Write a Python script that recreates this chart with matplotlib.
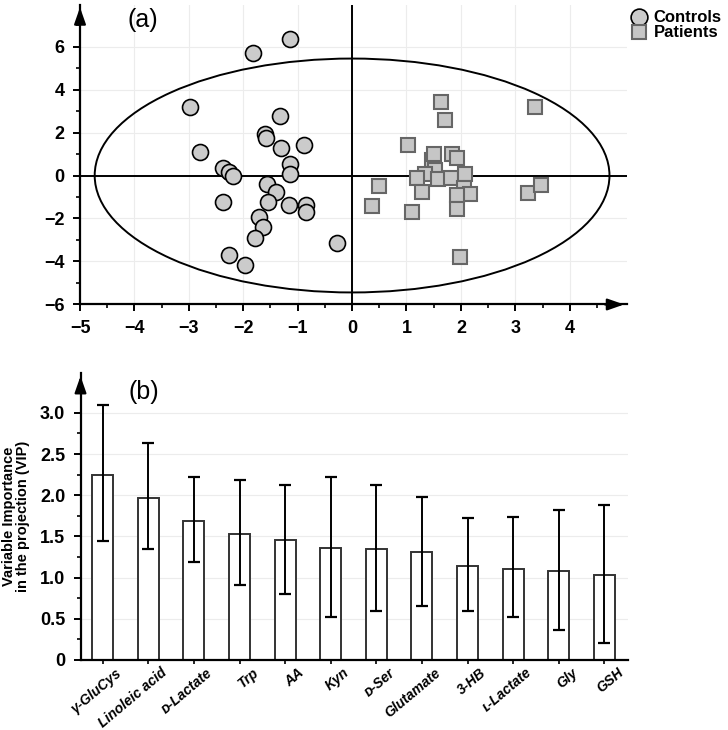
import numpy as np
import matplotlib
matplotlib.use("Agg")
import matplotlib.pyplot as plt
from matplotlib.patches import Ellipse
from matplotlib.ticker import MultipleLocator
from matplotlib.transforms import ScaledTranslation

plt.rcParams['font.family'] = ['Liberation Sans Narrow', 'Liberation Sans', 'DejaVu Sans']

# ---- (a) score plot data ----
ctrl_x = [-1.15, -1.83, -2.98, -1.32, -1.60, -1.58, -2.80, -1.30, -0.89, -1.15,
          -1.15, -2.38, -2.26, -2.19, -1.57, -1.40, -1.54, -2.37, -1.155, -0.85,
          -0.84, -1.71, -1.64, -1.79, -0.28, -2.26, -1.96]
ctrl_y = [6.37, 5.72, 3.19, 2.77, 1.95, 1.75, 1.08, 1.27, 1.44, 0.53,
          0.09, 0.33, 0.17, -0.03, -0.40, -0.78, -1.23, -1.23, -1.35, -1.35,
          -1.69, -1.92, -2.40, -2.93, -3.16, -3.71, -4.17]

pat_x = [1.64, 1.71, 3.36, 1.02, 1.47, 1.51, 1.83, 1.92, 1.52, 1.34,
         1.19, 1.58, 1.82, 2.07, 0.49, 1.29, 2.06, 2.17, 1.92, 0.36,
         1.10, 1.92, 3.23, 3.48, 1.98]
pat_y = [3.43, 2.58, 3.17, 1.42, 0.72, 1.01, 1.01, 0.80, 0.26, 0.07,
         -0.12, -0.18, -0.12, 0.07, -0.47, -0.75, -0.60, -0.85, -0.91, -1.42,
         -1.70, -1.56, -0.80, -0.43, -3.78]

ell_w, ell_h = 2 * 4.73, 2 * 5.44   # Hotelling ellipse

# ---- (b) VIP data ----
metabolites = ['\u03b3-GluCys', 'Linoleic acid', '\u1d05-Lactate', 'Trp', 'AA', 'Kyn',
               '\u1d05-Ser', 'Glutamate', '3-HB', '\u029f-Lactate', 'Gly', 'GSH']
vip = [2.25, 1.97, 1.69, 1.53, 1.46, 1.36, 1.345, 1.31, 1.14, 1.11, 1.085, 1.03]
err_hi = [3.09, 2.63, 2.22, 2.18, 2.13, 2.22, 2.12, 1.98, 1.72, 1.74, 1.82, 1.88]
err_lo = [1.445, 1.345, 1.19, 0.905, 0.805, 0.52, 0.60, 0.66, 0.59, 0.52, 0.365, 0.205]

fig = plt.figure(figsize=(7.28, 7.30), dpi=100)

# ----------------------------
# (a) scores
# ----------------------------
ax1 = fig.add_axes([0.1099, 0.5829, 0.7512, 0.4108])
ax1.set_xlim(-5, 5.05)
ax1.set_ylim(-6, 7.95)

for v in range(-4, 5):
    ax1.axvline(v, color='#ececec', lw=0.8, zorder=0)
for v in range(-4, 8, 2):
    ax1.axhline(v, color='#ececec', lw=0.8, zorder=0)

ax1.axhline(0, color='k', lw=1.4, zorder=1)
ax1.axvline(0, color='k', lw=1.4, zorder=1)
ax1.add_patch(Ellipse((0, 0), ell_w, ell_h, fill=False, ec='k', lw=1.4, zorder=1))

ax1.plot(pat_x, pat_y, 's', ms=10, mfc='#c6c6c6', mec='#666666', mew=1.5,
         ls='none', zorder=3, label='Patients')
ax1.plot(ctrl_x, ctrl_y, 'o', ms=11.5, mfc='#cbcbcb', mec='k', mew=1.2,
         ls='none', zorder=4, label='Controls')

for s in ['top', 'right']:
    ax1.spines[s].set_visible(False)
ax1.spines['left'].set_linewidth(1.6)
ax1.spines['bottom'].set_linewidth(1.6)

ax1.yaxis.set_major_locator(MultipleLocator(2))
ax1.yaxis.set_minor_locator(MultipleLocator(1))
ax1.set_xticks(np.arange(-5, 5, 1))
ax1.set_xticks(np.arange(-4.5, 5, 1), minor=True)
ax1.tick_params(which='major', length=5, width=1.4, labelsize=13, pad=6)
ax1.tick_params(which='minor', length=3, width=1.2)
for lab in ax1.get_xticklabels() + ax1.get_yticklabels():
    lab.set_fontweight('bold')

ax1.annotate('', xy=(1.0, 0), xytext=(0.955, 0), xycoords='axes fraction',
             arrowprops=dict(arrowstyle='-|>,head_length=1.0,head_width=0.35',
                             color='k', lw=1.6), annotation_clip=False)
ax1.annotate('', xy=(0, 1.0), xytext=(0, 0.95), xycoords='axes fraction',
             arrowprops=dict(arrowstyle='-|>,head_length=1.0,head_width=0.35',
                             color='k', lw=1.6), annotation_clip=False)

ax1.text(143 / 728, 1 - 20 / 730, '(a)', transform=fig.transFigure,
         ha='center', va='center', fontsize=18, family=['Liberation Sans', 'DejaVu Sans'])

h, l = ax1.get_legend_handles_labels()
leg = fig.legend(h[::-1], l[::-1], loc='upper left', bbox_to_anchor=(623 / 728, 1 - 2 / 730),
                 frameon=False, handletextpad=0.45, labelspacing=0.0, borderpad=0,
                 handlelength=0.9, markerscale=1.05,
                 prop=dict(weight='bold', size=12, family=['Liberation Sans', 'DejaVu Sans']))

# ----------------------------
# (b) VIP bars
# ----------------------------
ax2 = fig.add_axes([0.1106, 0.0959, 0.752, 0.3927])
xpos = np.arange(len(metabolites))
ax2.set_xlim(-0.489, 11.52)
ax2.set_ylim(0, 3.48)

for v in np.arange(0.5, 3.5, 0.5):
    ax2.axhline(v, color='#ececec', lw=0.8, zorder=0)

vip_arr = np.array(vip)
yerr = [vip_arr - np.array(err_lo), np.array(err_hi) - vip_arr]
ax2.bar(xpos, vip, width=0.46, color='white', edgecolor='#333333', lw=1.4, zorder=2)
ax2.errorbar(xpos, vip, yerr=yerr, fmt='none', ecolor='k', elinewidth=1.4,
             capsize=4.5, capthick=1.6, zorder=3)

for s in ['top', 'right']:
    ax2.spines[s].set_visible(False)
ax2.spines['left'].set_linewidth(1.6)
ax2.spines['bottom'].set_linewidth(1.6)

ax2.yaxis.set_minor_locator(MultipleLocator(0.25))
ax2.set_yticks(np.arange(0, 3.01, 0.5))
ax2.set_yticklabels(['0', '0.5', '1.0', '1.5', '2.0', '2.5', '3.0'], fontweight='bold')
ax2.tick_params(axis='y', which='major', length=5, width=1.4, labelsize=13, pad=6)
ax2.tick_params(axis='y', which='minor', length=3, width=1.2)
ax2.tick_params(axis='x', length=3, width=1.2)
ax2.set_xticks(xpos)
ax2.set_xticklabels(metabolites, rotation=40, ha='right', va='center',
                    rotation_mode='anchor', fontsize=10, fontweight='bold', style='italic',
                    family=['Liberation Sans', 'DejaVu Sans'])
# shift labels so their ends sit right of the ticks, as in the original
off = ScaledTranslation(17 / 100, -2 / 100, fig.dpi_scale_trans)
for lab in ax2.get_xticklabels():
    lab.set_transform(lab.get_transform() + off)

ax2.annotate('', xy=(0, 1.0), xytext=(0, 0.95), xycoords='axes fraction',
             arrowprops=dict(arrowstyle='-|>,head_length=1.0,head_width=0.35',
                             color='k', lw=1.6), annotation_clip=False)

ax2.set_ylabel('Variable Importance\nin the projection (VIP)', fontsize=10.5,
               fontweight='bold', family=['Liberation Sans', 'DejaVu Sans'],
               linespacing=1.0, labelpad=7)

ax2.text(144 / 728, 1 - 392 / 730, '(b)', transform=fig.transFigure,
         ha='center', va='center', fontsize=18, family=['Liberation Sans', 'DejaVu Sans'])

fig.savefig('out.png', dpi=100)
